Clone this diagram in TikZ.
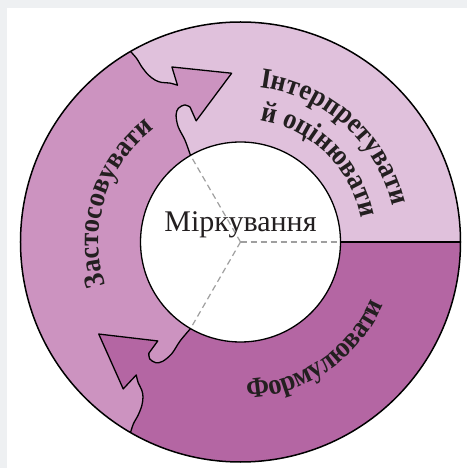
\documentclass[tikz,border=0pt]{standalone}
\usepackage{fontspec}
\setmainfont{Liberation Serif}
\newfontfamily\arcfam[FakeStretch=0.92]{Liberation Serif}
\usetikzlibrary{decorations.text}
\definecolor{bgGray}{HTML}{EEF0F2}
\definecolor{segLight}{HTML}{E0C1DC}
\definecolor{segMid}{HTML}{CC93C0}
\definecolor{segDark}{HTML}{B466A3}
\definecolor{inkDark}{HTML}{231F20}
\newcommand{\arcfont}{\arcfam\fontsize{29pt}{32pt}\selectfont\bfseries}
\newcommand{\bnd}[1]{%
 -- plot[smooth,tension=0.55] coordinates {({#1}:220) ({#1-0.5}:211) ({#1-0.6}:201) ({#1-1.1}:191) ({#1-2.2}:183) ({#1-3.7}:178) ({#1-6}:174) ({#1-8.1}:169)}
 -- ({#1-8.6}:188) -- ({#1-27}:169) -- ({#1-9.9}:129) -- ({#1-9.5}:144)
 -- plot[smooth,tension=0.55] coordinates {({#1-9.5}:144) ({#1-7.9}:148) ({#1-5.1}:147.5) ({#1-3.1}:142.4) ({#1-1.6}:131) ({#1-1.4}:116) ({#1}:100)}}
\tikzset{
  edgeline/.style={draw=black, line width=1.3pt, line join=round},
  guide/.style={draw=gray!75, line width=1.2pt, dash pattern=on 6pt off 4pt},
  arctext/.style={decorate, decoration={text along path, text align=center, text color=inkDark, text={|\arcfont|#1}}}
}
\begin{document}
\begin{tikzpicture}[x=1pt,y=1pt]
\fill[bgGray] (-240.5,-226) rectangle (226.5,242);
\fill[white] (-233.5,-226) rectangle (226.5,234);
\useasboundingbox (-240.5,-226) rectangle (226.5,242);
% ring
\fill[segMid] (0,0) circle (220);
\fill[segLight] (0:220) arc (0:120:220) \bnd{120} arc (120:0:100) -- cycle;
\fill[segDark] (0:220) arc (0:-120:220) \bnd{240} arc (-120:0:100) -- cycle;
\draw[edgeline] (120:220) \bnd{120};
\draw[edgeline] (240:220) \bnd{240};
\draw[edgeline] (0:100) -- (0:220);
\draw[edgeline, line width=1.5pt] (0,0) circle (220);
% centre
\node[circle, fill=white, draw=black, line width=1.3pt, minimum size=200pt, inner sep=0pt] (hub) at (0,0) {};
\coordinate (ctr) at (0,0);
\draw[guide] (ctr) -- (0:99);
\draw[guide] (ctr) -- (120:99);
\draw[guide] (ctr) -- (240:99);
\node[text=inkDark, font=\fontsize{30pt}{32pt}\selectfont, anchor=base] (think) at (0,10) {Міркування};
% arc labels
\path[arctext={Застосовувати}] (205:142) arc (205:120:142);
\path[arctext={Формулювати}] (262:156) arc (262:347:156);
\path[arctext={Інтерпретувати}] (100:156) arc (100:-4:156);
\path[arctext={й оцінювати}] (91:123) arc (91:1:123);
\end{tikzpicture}
\end{document}
